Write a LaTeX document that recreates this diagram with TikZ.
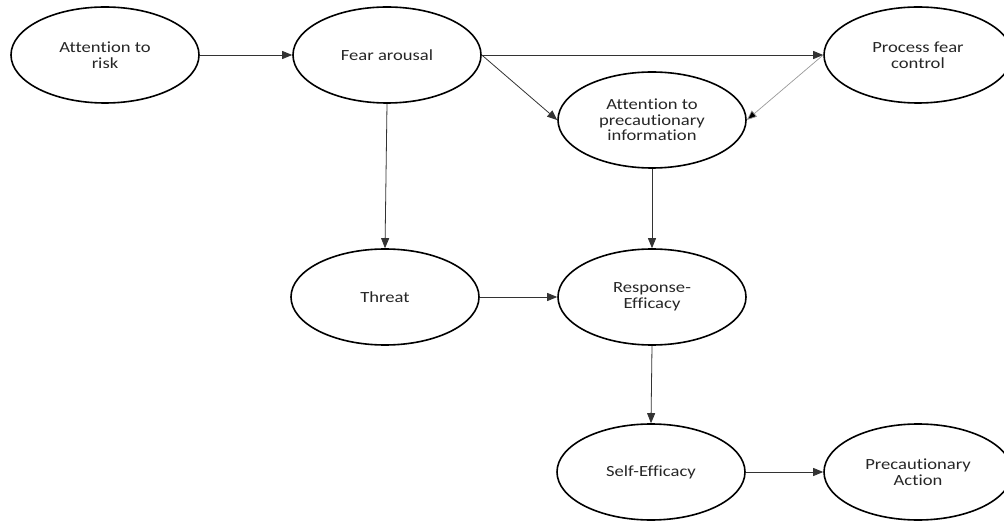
\documentclass[tikz,border=0pt]{standalone}
\usepackage{fontspec}
\setmainfont{Carlito}[FakeStretch=1.2,Ligatures={NoCommon}]
\usetikzlibrary{shapes.geometric,arrows.meta}
\begin{document}
\begin{tikzpicture}[x=1pt,y=-1pt,
  oval/.style={ellipse, draw=black, line width=1.6pt, minimum width=188pt, minimum height=96pt, inner sep=0pt, align=center, text=black!85, font=\fontsize{15.5}{15.5}\selectfont},
  conn/.style={draw=black!80, line width=0.8pt, -{Triangle[length=10pt,width=8pt]}},
  lightconn/.style={draw=black!40, line width=0.7pt, -{Triangle[length=10pt,width=8pt,fill=black]}}
]
\useasboundingbox (0,0) rectangle (1004,521);
\node[oval] (risk) at (105,55) {Attention to\\risk};
\node[oval] (fear) at (387,55) {Fear arousal};
\node[oval] (pfc) at (918,55) {Process fear\\control};
\node[oval] (api) at (652,120) {Attention to\\precautionary\\information};
\node[oval] (threat) at (385,297) {Threat};
\node[oval] (resp) at (652,297) {Response-\\Efficacy};
\node[oval] (self) at (651,472) {Self-Efficacy};
\node[oval] (act) at (918,472) {Precautionary\\Action};
\draw[conn] (risk.east) -- (fear.west);
\draw[conn] (fear.east) -- (pfc.west);
\draw[conn] (fear.east) -- (api.west);
\draw[lightconn] (pfc.west) -- (api.east);
\draw[conn] (fear.south) -- (threat.north);
\draw[conn] (api.south) -- (resp.north);
\draw[conn] (threat.east) -- (resp.west);
\draw[conn] (resp.south) -- (self.north);
\draw[conn] (self.east) -- (act.west);
\end{tikzpicture}
\end{document}
